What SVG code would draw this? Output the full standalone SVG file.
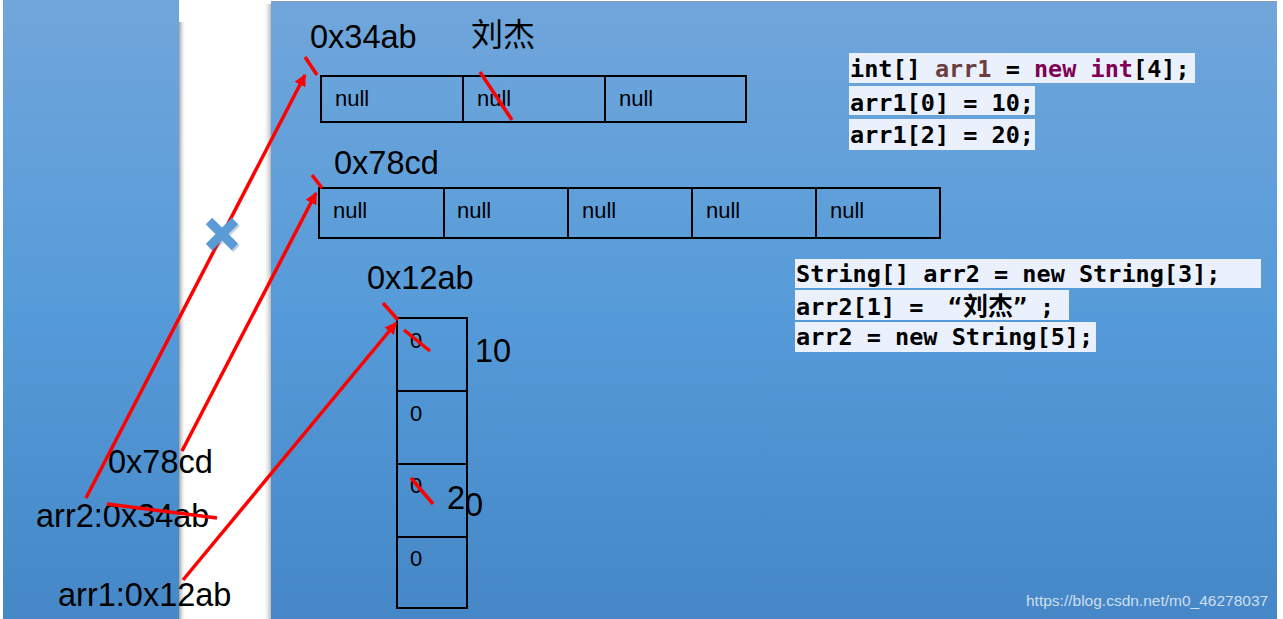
<svg xmlns="http://www.w3.org/2000/svg" width="1283" height="619" viewBox="0 0 1283 619">
<defs>
<linearGradient id="bg" x1="0" y1="0" x2="0" y2="1">
<stop offset="0" stop-color="#70a6db"/>
<stop offset="0.5" stop-color="#569bd9"/>
<stop offset="1" stop-color="#4587c7"/>
</linearGradient>
<linearGradient id="shR" x1="0" y1="0" x2="1" y2="0">
<stop offset="0" stop-color="#888" stop-opacity="0.8"/>
<stop offset="1" stop-color="#fff" stop-opacity="0"/>
</linearGradient>
<linearGradient id="shL" x1="1" y1="0" x2="0" y2="0">
<stop offset="0" stop-color="#999" stop-opacity="0.7"/>
<stop offset="1" stop-color="#fff" stop-opacity="0"/>
</linearGradient>
<marker id="ah" viewBox="0 0 10 10" refX="9" refY="5" markerWidth="12" markerHeight="12" markerUnits="userSpaceOnUse" orient="auto">
<path d="M0,0 L10,5 L0,10 z" fill="#ff0000"/>
</marker>
</defs>
<style>
.cell{fill:none;stroke:#000;stroke-width:2}
.lbl{font-family:"Liberation Sans",Arial,sans-serif;font-size:32.5px;fill:#000}
.sm{font-family:"Liberation Sans",Arial,sans-serif;font-size:22px;fill:#000}
.code{font-family:"DejaVu Sans Mono","Liberation Mono",monospace;font-size:23.5px;font-weight:bold;fill:#000}
.cjk{font-family:"Noto Sans CJK SC",sans-serif}
.cbox{fill:#eaf1fc}
.red{stroke:#ff0000;stroke-width:3.5;fill:none}
.kw{fill:#7f0055}
.var{fill:#6a3e3e}
</style>
<rect width="1283" height="619" fill="#ffffff"/>
<rect x="179" y="22" width="7" height="597" fill="url(#shR)"/>
<rect x="263" y="4" width="8" height="615" fill="url(#shL)"/>
<rect x="3" y="0" width="176" height="619" fill="url(#bg)"/>
<rect x="271" y="1" width="1006" height="618" fill="url(#bg)"/>
<line x1="271" y1="1.5" x2="1277" y2="1.5" stroke="#8a9bb0" stroke-width="1"/>

<g id="arr1-box">
<rect class="cell" x="321" y="76" width="425" height="46"/>
<line class="cell" x1="463" y1="76" x2="463" y2="122"/>
<line class="cell" x1="605" y1="76" x2="605" y2="122"/>
<text class="sm" x="335" y="106">null</text>
<text class="sm" x="477" y="106">null</text>
<text class="sm" x="619" y="106">null</text>
<text class="lbl" x="310" y="48">0x34ab</text>
<text class="cjk" x="471" y="46" style="font-size:32px;fill:#000">刘杰</text>
</g>

<g id="arr2-box">
<rect class="cell" x="319" y="188" width="621" height="50"/>
<line class="cell" x1="444" y1="188" x2="444" y2="238"/>
<line class="cell" x1="568" y1="188" x2="568" y2="238"/>
<line class="cell" x1="692" y1="188" x2="692" y2="238"/>
<line class="cell" x1="816" y1="188" x2="816" y2="238"/>
<text class="sm" x="333" y="218">null</text>
<text class="sm" x="457" y="218">null</text>
<text class="sm" x="582" y="218">null</text>
<text class="sm" x="706" y="218">null</text>
<text class="sm" x="830" y="218">null</text>
<text class="lbl" x="334" y="174">0x78cd</text>
</g>

<g id="int-box">
<rect class="cell" x="397" y="318" width="70" height="290"/>
<line class="cell" x1="397" y1="391" x2="467" y2="391"/>
<line class="cell" x1="397" y1="464" x2="467" y2="464"/>
<line class="cell" x1="397" y1="537" x2="467" y2="537"/>
<text class="sm" x="410" y="348">0</text>
<text class="sm" x="410" y="421">0</text>
<text class="sm" x="410" y="493">0</text>
<text class="sm" x="410" y="566">0</text>
<text class="lbl" x="367" y="289">0x12ab</text>
<text class="lbl" x="475" y="362">10</text>
<text class="lbl" x="447" y="509">2<tspan dy="7">0</tspan></text>
</g>

<g id="stack-labels">
<text class="lbl" x="108" y="473">0x78cd</text>
<text class="lbl" x="36" y="527">arr2:0x34ab</text>
<text class="lbl" x="58" y="606">arr1:0x12ab</text>
</g>

<g id="code1">
<rect class="cbox" x="849" y="53" width="346" height="30"/>
<rect class="cbox" x="849" y="86" width="186" height="29"/>
<rect class="cbox" x="849" y="119" width="186" height="31"/>
<text class="code" x="850" y="77">int[] <tspan class="var">arr1</tspan> = <tspan class="kw">new int</tspan>[4];</text>
<text class="code" x="850" y="111">arr1[0] = 10;</text>
<text class="code" x="850" y="143">arr1[2] = 20;</text>
</g>

<g id="code2">
<rect class="cbox" x="795" y="259" width="466" height="29"/>
<rect class="cbox" x="795" y="290" width="274" height="30"/>
<rect class="cbox" x="795" y="322" width="301" height="30"/>
<text class="code" x="796" y="282">String[] arr2 = new String[3];</text>
<text class="code" x="796" y="315">arr2[1] = <tspan x="948">“</tspan><tspan class="cjk" x="963" style="font-size:25px">刘杰</tspan><tspan x="1013">”</tspan><tspan x="1040">;</tspan></text>
<text class="code" x="796" y="345">arr2 = new String[5];</text>
</g>

<g id="connectors">
<line class="red" x1="86" y1="498" x2="305" y2="75" marker-end="url(#ah)"/>
<line class="red" x1="182" y1="451" x2="316" y2="193" marker-end="url(#ah)"/>
<line class="red" x1="183" y1="580" x2="396" y2="323" marker-end="url(#ah)"/>
<line class="red" x1="305" y1="57" x2="317" y2="75"/>
<line class="red" x1="312" y1="175" x2="322" y2="188"/>
<line class="red" x1="383" y1="303" x2="398" y2="320"/>
<line class="red" x1="107" y1="504" x2="217" y2="518"/>
<line class="red" x1="480" y1="72" x2="512" y2="120"/>
<line class="red" x1="404" y1="330" x2="430" y2="351"/>
<line class="red" x1="411" y1="478" x2="433" y2="504"/>
</g>

<g id="cross">
<path d="M209,221 L235,247 M235,221 L209,247" stroke="#3a6ea0" stroke-opacity="0.3" stroke-width="9" transform="translate(1.5,2)"/>
<path d="M209,221 L235,247 M235,221 L209,247" stroke="#5b9bd5" stroke-width="9"/>
</g>

<text x="1026" y="606" style="font-family:'Liberation Sans',Arial,sans-serif;font-size:15.5px;fill:#cfdff0">https://blog.csdn.net/m0_46278037</text>
</svg>
